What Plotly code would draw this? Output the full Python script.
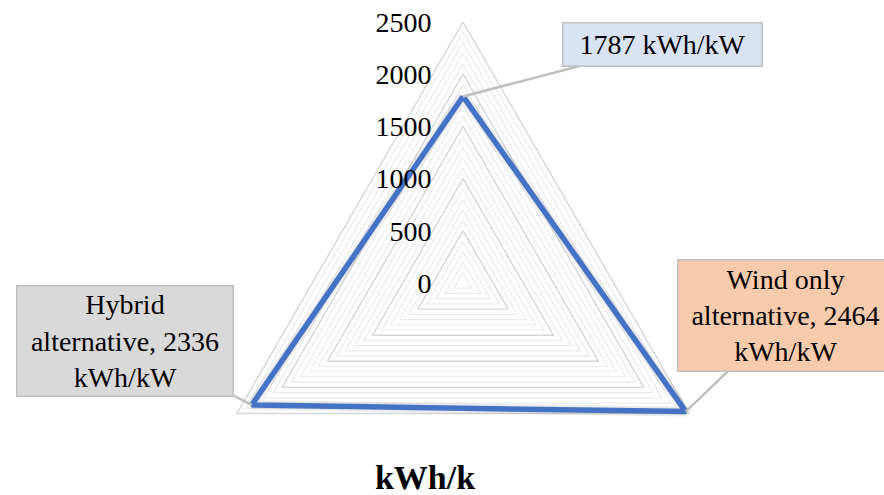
import numpy as np
import plotly.graph_objects as go

# Annual specific yield of each alternative (kWh per kW installed)
categories = ["Solar only alternative", "Wind only alternative", "Hybrid alternative"]
values = [1787, 2464, 2336]
label_templates = ["{v} kWh/kW",
                   "Wind only<br>alternative, {v}<br>kWh/kW",
                   "Hybrid<br>alternative, {v}<br>kWh/kW"]
label_fills = ["#dae3f3", "#f8cbad", "#d9d9d9"]

r_max = 2500
major_ticks = list(range(0, r_max + 1, 500))
minor_ticks = [t for t in range(100, r_max, 100) if t % 500]

FONT = "Liberation Serif"
W, H = 884, 495

# Radar geometry: centre and outer radius in pixels, spokes clockwise from the top
CX, CY, R_PX = 463, 283, 261
scale = R_PX / r_max                      # pixels per kWh/kW
spoke_deg = 90 - 360 / len(categories) * np.arange(len(categories))
spoke = np.deg2rad(spoke_deg)
ux, uy = np.cos(spoke), np.sin(spoke)


def ring(values_on_spokes):
    """Closed polygon through the given radial values on each spoke."""
    v = np.asarray(values_on_spokes, dtype=float)
    xs = np.append(v * ux, v[0] * ux[0])
    ys = np.append(v * uy, v[0] * uy[0])
    return list(xs), list(ys)


def grid_rings(levels):
    xs, ys = [], []
    for t in levels:
        rx, ry = ring([t] * len(categories))
        xs += rx + [None]
        ys += ry + [None]
    return xs, ys


fig = go.Figure()

# Minor and major grid polygons
gx, gy = grid_rings(minor_ticks)
fig.add_trace(go.Scatter(x=gx, y=gy, mode="lines",
                         line=dict(color="#ebebeb", width=1.2),
                         hoverinfo="skip", showlegend=False))
gx, gy = grid_rings([t for t in major_ticks if t > 0])
fig.add_trace(go.Scatter(x=gx, y=gy, mode="lines",
                         line=dict(color="#d6d6d6", width=1.4),
                         hoverinfo="skip", showlegend=False))

# Data polygon with a faint soft shadow underneath
dx, dy = ring(values)
fig.add_trace(go.Scatter(x=dx, y=dy, mode="lines",
                         line=dict(color="rgba(0,0,0,0.07)", width=10),
                         hoverinfo="skip", showlegend=False))
fig.add_trace(go.Scatter(x=dx, y=dy, mode="lines",
                         line=dict(color="#4472c4", width=5.5),
                         hoverinfo="skip", showlegend=False))

fig.update_layout(
    width=W, height=H,
    margin=dict(l=0, r=0, t=0, b=0),
    paper_bgcolor="white",
    plot_bgcolor="white",
    showlegend=False,
    xaxis=dict(range=[-CX / scale, (W - CX) / scale], visible=False, fixedrange=True),
    yaxis=dict(range=[-(H - CY) / scale, CY / scale], fixedrange=True,
               showgrid=False, zeroline=False, showline=False,
               tickvals=major_ticks, ticktext=[str(t) for t in major_ticks],
               ticks="outside", ticklen=26, tickcolor="rgba(0,0,0,0)",
               anchor="free", position=CX / W, side="left",
               tickfont=dict(family=FONT, size=28, color="black")),
    title=dict(text="<b>kWh/k</b>", x=425 / W, xanchor="center",
               y=1 - 477 / H, yanchor="middle",
               font=dict(family=FONT, size=34, color="black")),
)

# Callout offsets (pixels) and box sizes for each label
offsets = [(199, -52), (100, -96), (-127, -64)]
sizes = [(190, 34), (206, 102), (207, 101)]

for v, x0, y0, tpl, fill, (ax, ay), (bw, bh) in zip(values, ux, uy, label_templates,
                                                   label_fills, offsets, sizes):
    fig.add_annotation(
        x=v * x0, y=v * y0, xref="x", yref="y",
        text=tpl.format(v=v),
        showarrow=True, arrowhead=0, arrowwidth=2.5, arrowcolor="#bfbfbf",
        ax=ax, ay=ay, standoff=0,
        bgcolor=fill, bordercolor="#bfbfbf", borderwidth=1.5, borderpad=4,
        width=bw, height=bh, align="center", valign="middle",
        font=dict(family=FONT, size=28, color="black"),
    )

fig.write_html("out.html")
